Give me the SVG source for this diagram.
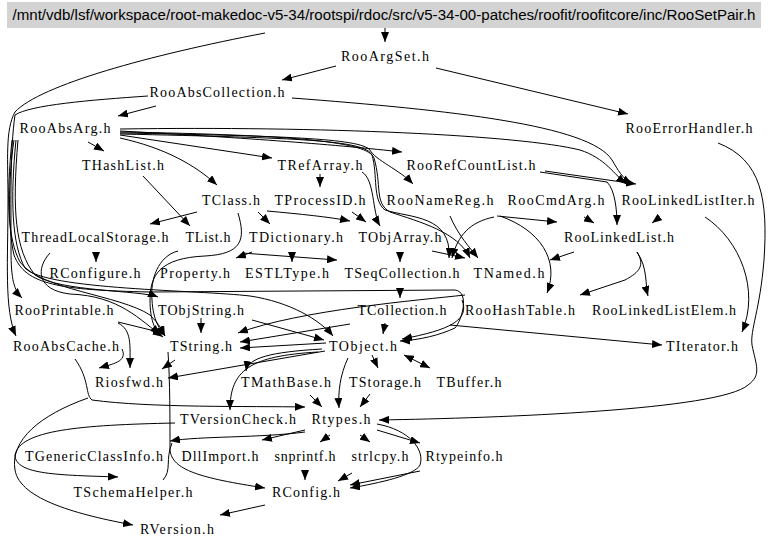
<svg xmlns="http://www.w3.org/2000/svg" width="768" height="549" viewBox="0 0 768 549">
<defs>
<marker id="a" markerUnits="userSpaceOnUse" markerWidth="10" markerHeight="8" refX="10" refY="4" orient="auto"><path d="M0,0 L10,4 L0,8 z" fill="#000"/></marker>
<marker id="s" markerUnits="userSpaceOnUse" markerWidth="10" markerHeight="8" refX="0" refY="4" orient="auto"><path d="M10,0 L0,4 L10,8 z" fill="#000"/></marker>
<style>
.n text{font-family:"Liberation Serif","Times New Roman",serif;font-size:14px;fill:#000;text-anchor:middle}
#edges path{fill:none;stroke:#000;stroke-width:1;marker-end:url(#a)}
#edges path.x{marker-end:none}
</style>
</defs>
<rect width="768" height="549" fill="#fff"/>
<g id="title" class="n"><rect x="7" y="2" width="754" height="26" fill="#d3d3d3"/><text x="384" y="20" textLength="743" lengthAdjust="spacingAndGlyphs" style="font-family:'Liberation Sans',Arial,sans-serif;font-size:14px">/mnt/vdb/lsf/workspace/root-makedoc-v5-34/rootspi/rdoc/src/v5-34-00-patches/roofit/roofitcore/inc/RooSetPair.h</text></g>
<g id="edges">
<path d="M385,28 L385,42"/>
<path d="M336,66 L282,80"/>
<path d="M436,68 L628,114"/>
<path d="M156,106 L118,116"/>
<path d="M292,98 C450,110 590,125 612,160 C618,170 622,178 632,184"/>
<path d="M265,33 C150,55 40,85 15,112 C5,130 8,160 8,200 C8,260 4,310 16,336"/>
<path d="M148,96 C90,100 30,105 15,115 C10,150 11,200 11,250 C11,280 14,290 22,298"/>
<path d="M14,140 C8,180 8,230 14,255 C25,285 60,290 150,292 L455,290 C470,292 462,320 455,328 C440,335 420,340 400,341"/>
<path d="M12,140 C6,200 8,240 20,262 C40,290 120,295 150,315 C160,325 162,330 165,336"/>
<path d="M16,140 C10,200 12,245 25,268 C45,290 200,290 250,296 C290,302 320,320 333,336"/>
<path d="M18,140 C12,210 15,250 35,275 C60,292 140,290 158,297"/>
<path d="M88,142 L104,151"/>
<path d="M120,135 L272,158"/>
<path d="M120,138 C165,148 195,165 217,185"/>
<path d="M120,131 C250,138 340,145 402,152"/>
<path d="M120,133 C280,136 360,138 370,150 C375,160 400,170 413,184"/>
<path d="M120,129 C320,126 520,135 580,150 C605,158 615,175 626,184"/>
<path d="M120,134 C300,138 365,140 372,155 C378,175 372,200 385,210 C410,218 452,215 449,258"/>
<path d="M120,132 C300,135 368,142 374,158 C382,185 374,203 390,212 C420,222 458,232 470,258"/>
<path d="M540,172 L607,182 C615,190 617,210 617,225"/>
<path d="M545,171 L636,184"/>
<path d="M143,176 L190,226"/>
<path d="M320,174 L320,187"/>
<path d="M362,172 C375,180 372,212 380,226"/>
<path d="M197,212 L150,224"/>
<path d="M258,212 L270,224"/>
<path d="M267,211 C300,214 330,217 350,221"/>
<path d="M238,213 C246,240 242,254 205,256 C160,258 150,275 150,300 C150,320 155,330 160,335"/>
<path d="M352,212 L366,222"/>
<path d="M96,252 L96,262"/>
<path d="M50,253 C36,268 36,290 70,294 C120,296 140,320 163,337"/>
<path d="M178,251 C158,256 150,280 152,300 C153,320 160,330 165,336"/>
<path d="M252,252 L236,258"/>
<path d="M292,252 L292,262"/>
<path d="M242,253 L337,260"/>
<path d="M400,252 L400,262"/>
<path d="M432,251 L465,258"/>
<path d="M400,288 L400,298"/>
<path d="M450,216 C458,235 470,248 478,258"/>
<path d="M494,217 C470,222 458,235 452,258"/>
<path d="M497,216 L557,222"/>
<path d="M500,216 C540,230 560,260 547,293"/>
<path d="M574,252 L550,260"/>
<path d="M584,217 L594,223"/>
<path d="M660,217 L652,223"/>
<path d="M637,252 C645,265 640,272 625,280 C610,285 595,290 580,295"/>
<path d="M637,252 C648,268 645,285 648,296"/>
<path d="M705,217 C740,240 760,290 742,332"/>
<path d="M718,143 C762,160 768,200 764,260 C760,310 750,330 752,345 C756,365 762,375 748,385 C720,410 500,418 379,420"/>
<path d="M201,318 L201,333"/>
<path d="M252,320 L324,340"/>
<path d="M118,322 L163,333"/>
<path d="M118,323 C132,330 130,345 130,368"/>
<path d="M122,349 C128,362 112,364 99,368"/>
<path d="M75,359 C90,380 85,395 92,400 C150,408 250,406 305,407"/>
<path d="M88,398 C40,415 10,440 15,470 C20,500 80,515 133,525"/>
<path d="M350,324 L240,342"/>
<path d="M465,295 C420,300 300,310 238,333"/>
<path d="M385,323 L383,334"/>
<path d="M450,325 L662,345"/>
<path d="M462,300 C470,320 450,330 402,339"/>
<path d="M326,343 L240,348"/>
<path d="M325,351 L168,378"/>
<path d="M322,349 C270,352 248,358 246,371"/>
<path d="M318,352 C250,356 230,370 230,410"/>
<path d="M372,355 L378,368"/>
<path d="M404,355 L430,368" marker-start="url(#s)"/>
<path d="M348,358 C340,375 338,392 339,408"/>
<path d="M168,352 C170,380 170,420 170,450 C172,470 200,478 265,488"/>
<path d="M175,360 L162,369"/>
<path d="M310,395 L322,407"/>
<path d="M370,394 L360,407"/>
<path d="M175,423 C80,425 20,430 15,455 C15,475 60,475 118,477"/>
<path d="M305,432 C260,438 200,436 170,441"/>
<path class="x" d="M172,443 C165,460 172,470 163,480"/>
<path d="M305,430 L262,440"/>
<path d="M330,435 L320,442"/>
<path d="M360,435 L370,442"/>
<path d="M377,430 L420,443"/>
<path d="M377,424 C410,430 425,450 420,465 C415,475 380,483 350,488"/>
<path d="M420,471 L350,485"/>
<path d="M305,470 L305,480"/>
<path d="M352,473 L338,481"/>
<path d="M265,505 L220,515"/>
</g>
<g id="RooArgSet" class="n"><text x="385" y="61" textLength="88">RooArgSet.h</text></g>
<g id="RooAbsCollection" class="n"><text x="217" y="97" textLength="135">RooAbsCollection.h</text></g>
<g id="RooErrorHandler" class="n"><text x="689" y="133" textLength="127">RooErrorHandler.h</text></g>
<g id="RooAbsArg" class="n"><text x="65" y="133" textLength="91">RooAbsArg.h</text></g>
<g id="THashList" class="n"><text x="123" y="170" textLength="82">THashList.h</text></g>
<g id="TRefArray" class="n"><text x="320" y="170" textLength="85">TRefArray.h</text></g>
<g id="RooRefCountList" class="n"><text x="471" y="170" textLength="129">RooRefCountList.h</text></g>
<g id="TClass" class="n"><text x="231" y="205" textLength="58">TClass.h</text></g>
<g id="TProcessID" class="n"><text x="320" y="205" textLength="91">TProcessID.h</text></g>
<g id="RooNameReg" class="n"><text x="440" y="205" textLength="107">RooNameReg.h</text></g>
<g id="RooCmdArg" class="n"><text x="556" y="205" textLength="97">RooCmdArg.h</text></g>
<g id="RooLinkedListIter" class="n"><text x="688" y="205" textLength="133">RooLinkedListIter.h</text></g>
<g id="ThreadLocalStorage" class="n"><text x="95" y="242" textLength="147">ThreadLocalStorage.h</text></g>
<g id="TList" class="n"><text x="208" y="242" textLength="45">TList.h</text></g>
<g id="TDictionary" class="n"><text x="296" y="242" textLength="94">TDictionary.h</text></g>
<g id="TObjArray" class="n"><text x="400" y="242" textLength="83">TObjArray.h</text></g>
<g id="RooLinkedList" class="n"><text x="619" y="242" textLength="110">RooLinkedList.h</text></g>
<g id="RConfigure" class="n"><text x="95" y="278" textLength="91">RConfigure.h</text></g>
<g id="Property" class="n"><text x="195" y="278" textLength="70">Property.h</text></g>
<g id="ESTLType" class="n"><text x="287" y="278" textLength="84">ESTLType.h</text></g>
<g id="TSeqCollection" class="n"><text x="402" y="278" textLength="115">TSeqCollection.h</text></g>
<g id="TNamed" class="n"><text x="509" y="278" textLength="71">TNamed.h</text></g>
<g id="RooPrintable" class="n"><text x="64" y="315" textLength="99">RooPrintable.h</text></g>
<g id="TObjString" class="n"><text x="201" y="315" textLength="86">TObjString.h</text></g>
<g id="TCollection" class="n"><text x="402" y="315" textLength="89">TCollection.h</text></g>
<g id="RooHashTable" class="n"><text x="520" y="315" textLength="110">RooHashTable.h</text></g>
<g id="RooLinkedListElem" class="n"><text x="664" y="315" textLength="144">RooLinkedListElem.h</text></g>
<g id="RooAbsCache" class="n"><text x="66" y="351" textLength="106">RooAbsCache.h</text></g>
<g id="TString" class="n"><text x="201" y="351" textLength="62">TString.h</text></g>
<g id="TObject" class="n"><text x="363" y="351" textLength="68">TObject.h</text></g>
<g id="TIterator" class="n"><text x="702" y="351" textLength="72">TIterator.h</text></g>
<g id="Riosfwd" class="n"><text x="129" y="387" textLength="68">Riosfwd.h</text></g>
<g id="TMathBase" class="n"><text x="286" y="387" textLength="90">TMathBase.h</text></g>
<g id="TStorage" class="n"><text x="385" y="387" textLength="72">TStorage.h</text></g>
<g id="TBuffer" class="n"><text x="469" y="387" textLength="65">TBuffer.h</text></g>
<g id="TVersionCheck" class="n"><text x="238" y="424" textLength="116">TVersionCheck.h</text></g>
<g id="Rtypes" class="n"><text x="341" y="424" textLength="59">Rtypes.h</text></g>
<g id="TGenericClassInfo" class="n"><text x="94" y="461" textLength="138">TGenericClassInfo.h</text></g>
<g id="DllImport" class="n"><text x="220" y="461" textLength="77">DllImport.h</text></g>
<g id="snprintf" class="n"><text x="305" y="461" textLength="61">snprintf.h</text></g>
<g id="strlcpy" class="n"><text x="380" y="461" textLength="57">strlcpy.h</text></g>
<g id="Rtypeinfo" class="n"><text x="464" y="461" textLength="77">Rtypeinfo.h</text></g>
<g id="TSchemaHelper" class="n"><text x="133" y="497" textLength="119">TSchemaHelper.h</text></g>
<g id="RConfig" class="n"><text x="306" y="497" textLength="68">RConfig.h</text></g>
<g id="RVersion" class="n"><text x="177" y="534" textLength="74">RVersion.h</text></g>
</svg>
